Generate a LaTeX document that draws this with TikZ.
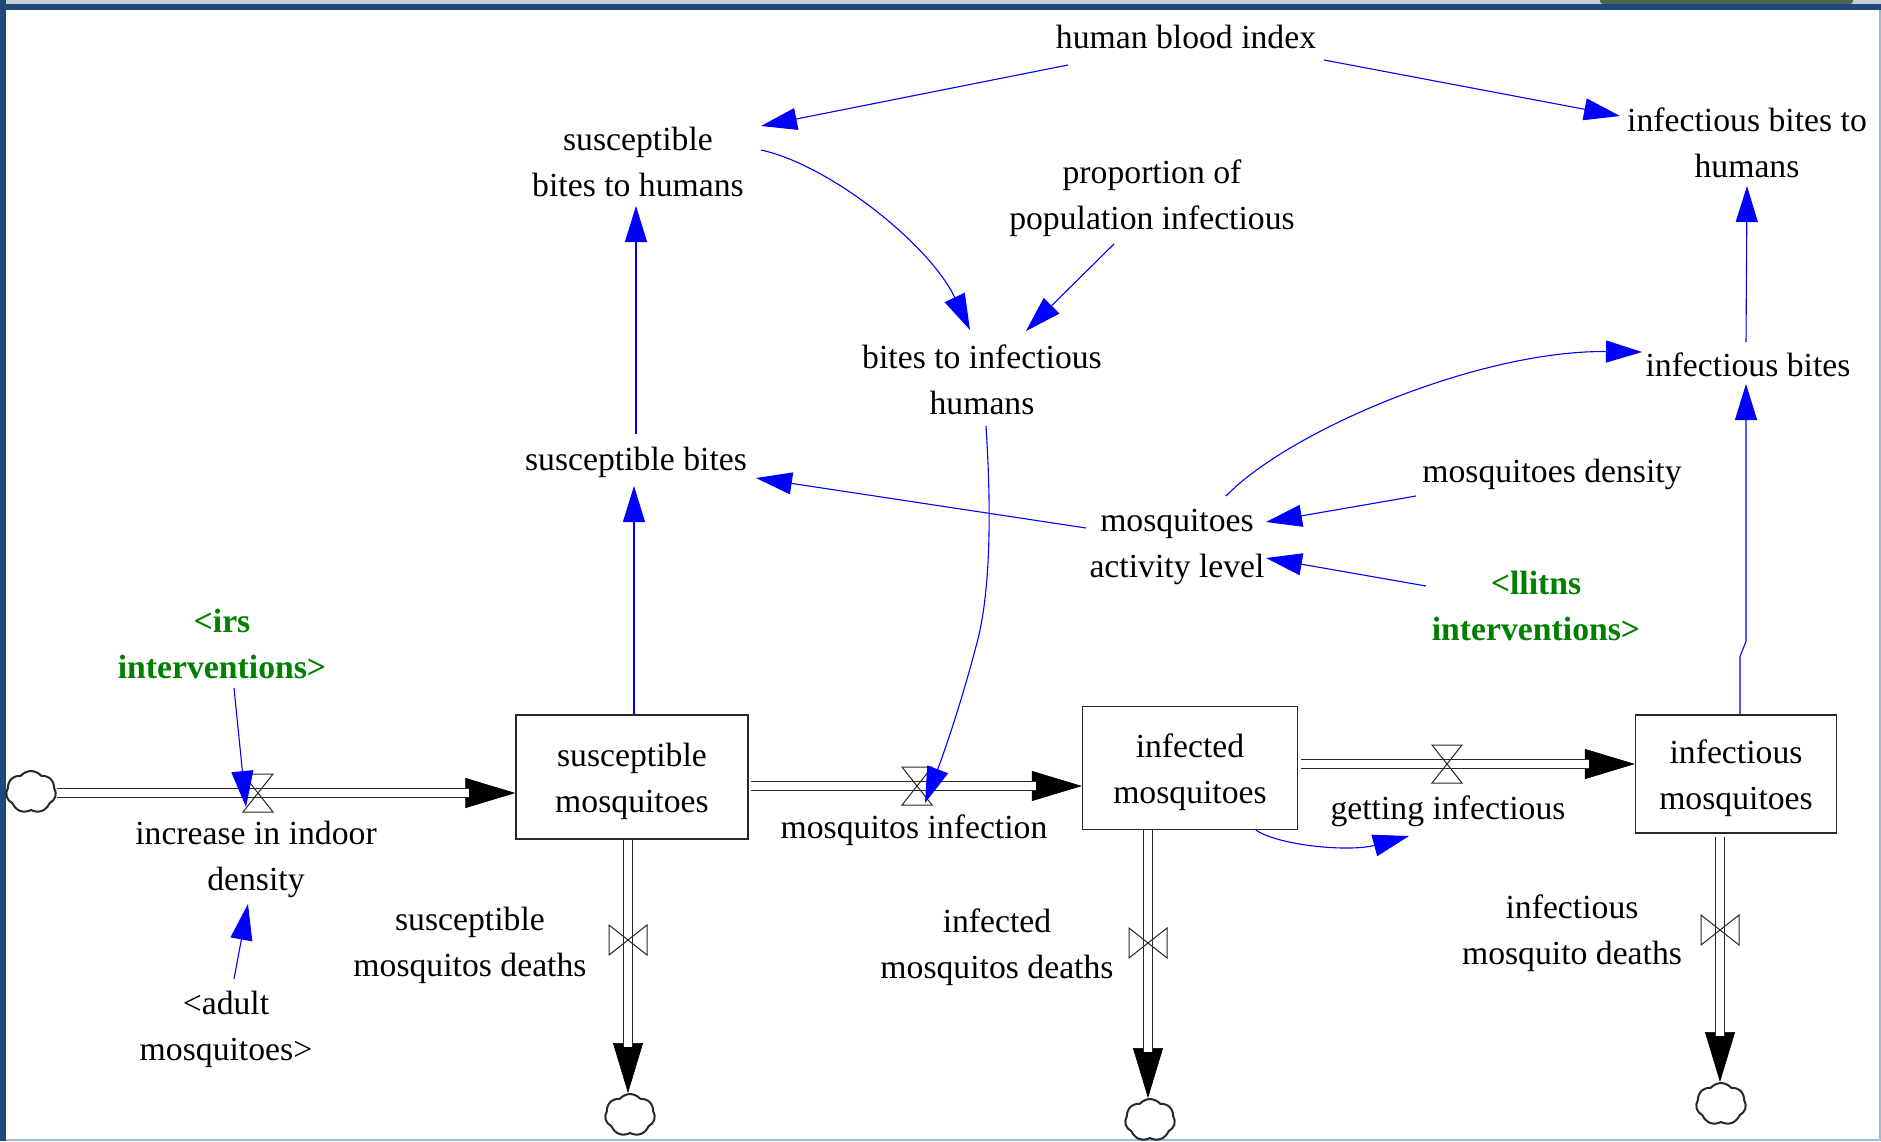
\documentclass[tikz,border=0pt]{standalone}
\usepackage{fontspec}
\setmainfont{Liberation Serif}
\usetikzlibrary{arrows.meta,shapes.symbols,calc}

\definecolor{linkblue}{RGB}{0,0,255}
\definecolor{vgreen}{RGB}{0,128,0}
\definecolor{framedark}{RGB}{31,73,125}
\definecolor{framelight}{RGB}{160,185,212}
\definecolor{framegrey}{RGB}{196,204,212}
\definecolor{pipegray}{RGB}{40,40,40}

\begin{document}
\begin{tikzpicture}[x=1pt,y=-1pt,
  every node/.style={font=\fontsize{33.7}{46}\selectfont, align=center, inner sep=0pt},
  shadowvar/.style={text=vgreen, font=\fontsize{33.7}{46}\selectfont\bfseries},
  stock/.style={draw=pipegray, line width=1.3pt, fill=white},
  cloudnode/.style={cloud, cloud puffs=7, cloud puff arc=100, aspect=1.2,
    draw=pipegray, line width=2pt, fill=white, minimum width=50pt,
    minimum height=42pt, inner sep=0pt},
  pipe/.style={draw=pipegray, line width=0.9pt, double=white, double distance=7.5pt},
  flowtip/.style={draw=black, line width=0.6pt, -{Triangle[length=50pt,width=30pt]}},
  link/.style={draw=linkblue, line width=1.1pt, -{Triangle[length=36pt,width=22pt]}},
  hvalve/.pic={\draw[pipegray, line width=1pt] (-15,-19) -- (15,-19) -- (-15,19) -- (15,19) -- cycle;},
  vvalve/.pic={\draw[pipegray, line width=1pt] (-19,-15) -- (-19,15) -- (19,-15) -- (19,15) -- cycle;}
]
% canvas and window frame
\useasboundingbox (0,0) rectangle (1881,1141);
\fill[white] (0,0) rectangle (1881,1141);
\fill[framegrey] (0,0) rectangle (1881,4);
\fill[black!75!green!40!gray, rounded corners=3pt] (1600,-4) rectangle (1853,4);
\fill[framedark] (0,4) rectangle (1881,10);
\fill[framedark] (0,0) rectangle (6,1141);
\fill[framelight] (1879,10) rectangle (1881,1141);
\fill[framelight] (6,1139) rectangle (1881,1141);

% stocks (the strut pushes the two text lines slightly below the box centre)
\node[stock, minimum width=232pt, minimum height=124pt] (sm) at (632,777) {\rule{0pt}{33pt}susceptible\\mosquitoes};
\node[stock, minimum width=215pt, minimum height=123pt] (im) at (1190,768) {\rule{0pt}{33pt}infected\\mosquitoes};
\node[stock, minimum width=201pt, minimum height=118pt] (ifm) at (1736,774) {\rule{0pt}{33pt}infectious\\mosquitoes};

% sources and sinks
\node[cloudnode] (c0) at (31,792) {};
\node[cloudnode] (c1) at (630,1115) {};
\node[cloudnode] (c2) at (1150,1120) {};
\node[cloudnode] (c3) at (1721,1104) {};

% valve positions
\coordinate (v1) at (258,793);
\coordinate (v2) at (917,786);
\coordinate (v3) at (1447,764);
\coordinate (v4) at (628,940);
\coordinate (v5) at (1148,943);
\coordinate (v6) at (1720,930);

% flows
\draw[flowtip] (c0.east |- v1) -- (v1 -| sm.west);
\draw[pipe, shorten >=46pt] (c0.east |- v1) -- (v1 -| sm.west);
\draw[flowtip] ([xshift=2pt]v2 -| sm.east) -- (v2 -| im.west);
\draw[pipe, shorten >=46pt] ([xshift=2pt]v2 -| sm.east) -- (v2 -| im.west);
\draw[flowtip] ([xshift=3pt]v3 -| im.east) -- (v3 -| ifm.west);
\draw[pipe, shorten >=46pt] ([xshift=3pt]v3 -| im.east) -- (v3 -| ifm.west);
\draw[flowtip] (v4 |- sm.south) -- (v4 |- c1.north);
\draw[pipe, shorten >=46pt] (v4 |- sm.south) -- (v4 |- c1.north);
\draw[flowtip] (v5 |- im.south) -- (v5 |- c2.north);
\draw[pipe, shorten >=46pt] (v5 |- im.south) -- (v5 |- c2.north);
\draw[flowtip] ([shift={(0,3)}]v6 |- ifm.south) -- (v6 |- c3.north);
\draw[pipe, shorten >=46pt] ([shift={(0,3)}]v6 |- ifm.south) -- (v6 |- c3.north);

\pic at (v1) {hvalve};
\pic at (v2) {hvalve};
\pic at (v3) {hvalve};
\pic at (v4) {vvalve};
\pic at (v5) {vvalve};
\pic at (v6) {vvalve};

% variables
\node (hbi) at (1186,37) {human blood index};
\node (sbh) at (638,162) {susceptible\\bites to humans};
\node (ibh) at (1747,143) {infectious bites to\\humans};
\node (prop) at (1152,198) {proportion of\\population infectious};
\node (bih) at (982,380) {bites to infectious\\humans};
\node (sb) at (636,462) {susceptible bites};
\node (ib) at (1748,365) {infectious bites};
\node (md) at (1552,474) {mosquitoes density};
\node (mal) at (1177,547) {mosquitoes\\activity level};
\node[shadowvar] (llitns) at (1536,606) {<llitns\\interventions>};
\node[shadowvar] (irs) at (222,644) {<irs\\interventions>};
\node (iid) at (256,859) {increase in indoor\\density};
\node (adult) at (226,1029) {<adult\\mosquitoes>};
\node (smd) at (470,945) {susceptible\\mosquitos deaths};
\node (imd) at (997,947) {infected\\mosquitos deaths};
\node (ifmd) at (1572,933) {infectious\\mosquito deaths};
\node (mi) at (914,830) {mosquitos infection};
\node (gi) at (1448,811) {getting infectious};

% causal links
\draw[link] ([shift={(-118,28)}]hbi.center) -- ([shift={(123,-36)}]sbh.center);
\draw[link] ([shift={(138,23)}]hbi.center) -- ([shift={(-127,-27)}]ibh.center);
\draw[link] ([shift={(123,-12)}]sbh.center) .. controls (830,165) and (930,245) .. ([shift={(-12,-50)}]bih.center);
\draw[link] ([shift={(-38,46)}]prop.center) -- ([shift={(44,-49)}]bih.center);
\draw[link] ([shift={(0,-28)}]sb.center) -- ([shift={(-2,44)}]sbh.center);
\draw[link] ([xshift=2pt]sm.north) -- ([shift={(-2,24)}]sb.center);
\draw[link] ([shift={(-91,-19)}]mal.center) -- ([shift={(120,16)}]sb.center);
\draw[link] ([shift={(-136,22)}]md.center) -- ([shift={(89,-25)}]mal.center);
\draw[link] ([shift={(-110,-20)}]llitns.center) -- ([shift={(89,11)}]mal.center);
\draw[link] ([shift={(49,-51)}]mal.center) .. controls (1290,430) and (1480,350) .. ([shift={(-106,-13)}]ib.center);
\draw[link] ([xshift=4pt]ifm.north) -- ++(0,-58) -- ++(6,-15) -- ([shift={(-2,19)}]ib.center);
\draw[link] ([shift={(-2,-23)}]ib.center) -- ([shift={(0,43)}]ibh.center);
\draw[link] ([shift={(12,44)}]irs.center) -- ([shift={(-12,14)}]v1);
\draw[link] ([shift={(8,-50)}]adult.center) -- ([shift={(-8,45)}]iid.center);
\draw[link] ([shift={(4,46)}]bih.center) .. controls (992,520) and (990,600) .. (975,650)
  .. controls (962,700) and (945,750) .. ([shift={(8,17)}]v2);
\draw[link] ([xshift=66pt]im.south) .. controls (1280,846) and (1350,852) .. ([shift={(-39,25)}]gi.center);
\end{tikzpicture}
\end{document}
